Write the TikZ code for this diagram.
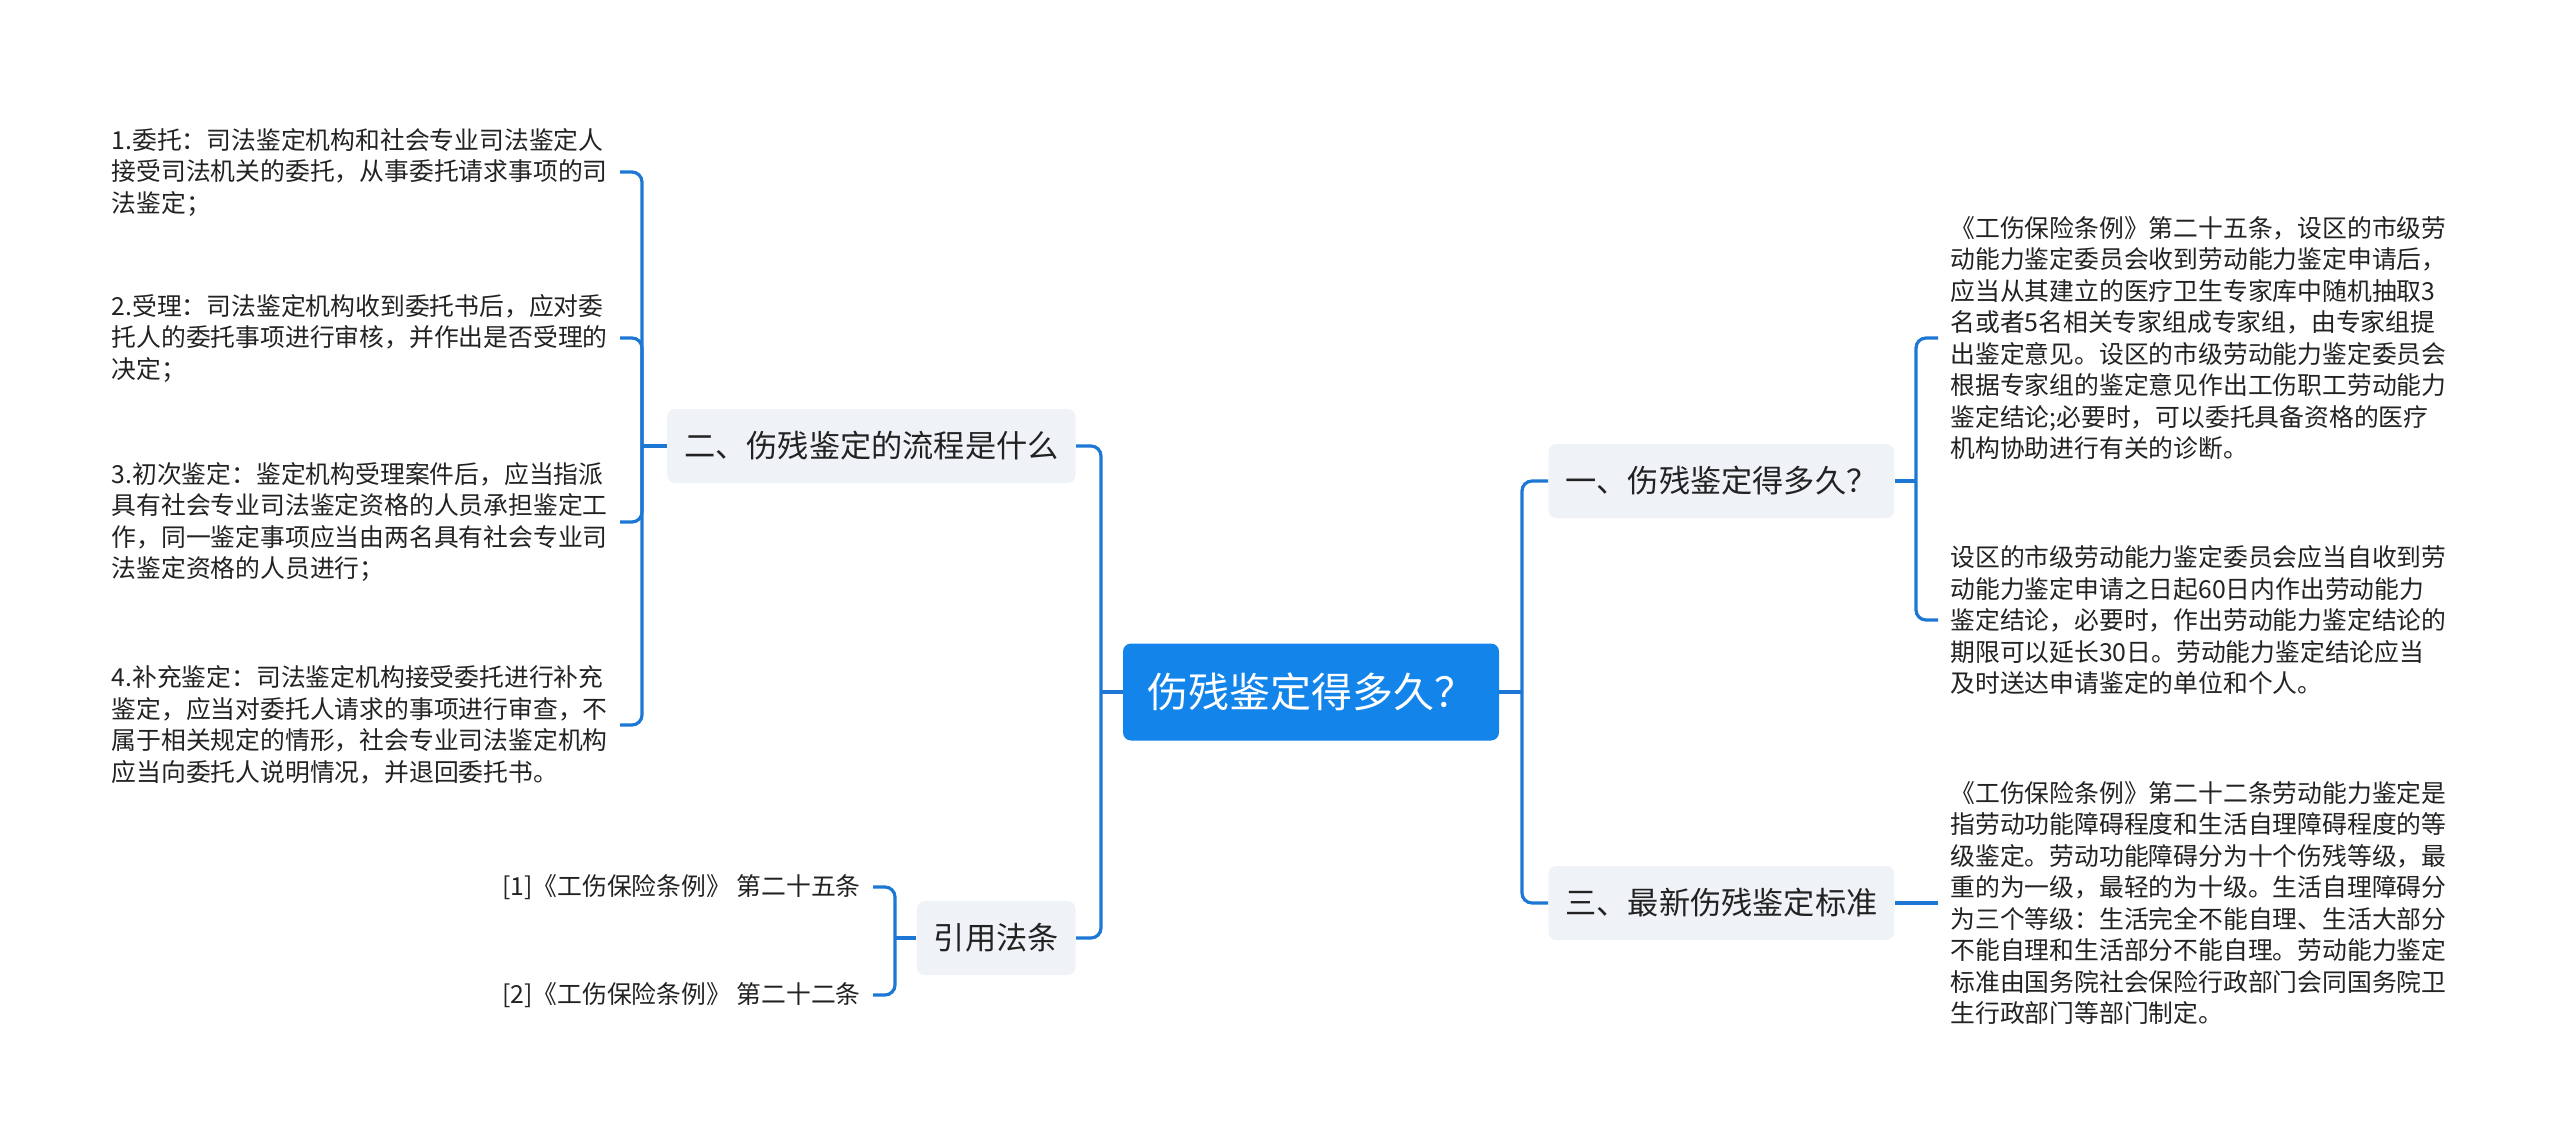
\documentclass[tikz,border=0pt]{standalone}
\usepackage{fontspec}
\setmainfont{Noto Sans CJK SC}
\definecolor{mapblue}{RGB}{18,132,234}
\definecolor{linkblue}{RGB}{28,120,212}
\definecolor{branchgray}{RGB}{239,242,246}
\definecolor{textgray}{RGB}{34,34,34}
\begin{document}
\begin{tikzpicture}[
  x=0.5pt, y=-0.5pt,
  every node/.style={text=textgray},
  rootbox/.style={rectangle, rounded corners=4pt, fill=mapblue, text=white, minimum width=188pt, minimum height=48.5pt, font=\fontsize{20.5}{24}\selectfont},
  branch/.style={rectangle, rounded corners=4pt, fill=branchgray, inner xsep=8.5pt, minimum height=37pt, font=\fontsize{15.6}{18}\selectfont},
  leaf/.style={align=left, inner xsep=6pt, inner ysep=2pt, font=\fontsize{12.4}{15.75}\selectfont},
  link/.style={draw=linkblue, line width=1.6pt, rounded corners=5pt}
]
\useasboundingbox (0,0) rectangle (2560,1147);
% centre and main branches
\node[rootbox] (root) at (1311,692) {伤残鉴定得多久？};
\node[branch, anchor=west] (b1)   at (1548,481) {一、伤残鉴定得多久？};
\node[branch, anchor=west] (b3)   at (1548,903) {三、最新伤残鉴定标准};
\node[branch, anchor=east] (b2)   at (1076,446) {二、伤残鉴定的流程是什么};
\node[branch, anchor=east] (cite) at (1076,938) {引用法条};

% left leaves: the procedure
\node[leaf, anchor=east] (p1) at (620,172) {1.委托：司法鉴定机构和社会专业司法鉴定人\\接受司法机关的委托，从事委托请求事项的司\\法鉴定；};
\node[leaf, anchor=east] (p2) at (620,338) {2.受理：司法鉴定机构收到委托书后，应对委\\托人的委托事项进行审核，并作出是否受理的\\决定；};
\node[leaf, anchor=east] (p3) at (620,522) {3.初次鉴定：鉴定机构受理案件后，应当指派\\具有社会专业司法鉴定资格的人员承担鉴定工\\作，同一鉴定事项应当由两名具有社会专业司\\法鉴定资格的人员进行；};
\node[leaf, anchor=east] (p4) at (620,725) {4.补充鉴定：司法鉴定机构接受委托进行补充\\鉴定，应当对委托人请求的事项进行审查，不\\属于相关规定的情形，社会专业司法鉴定机构\\应当向委托人说明情况，并退回委托书。};

% left leaves: cited articles
\node[leaf, anchor=east] (c1) at (873,887) {[1]《工伤保险条例》 第二十五条};
\node[leaf, anchor=east] (c2) at (873,995) {[2]《工伤保险条例》 第二十二条};

% right leaves
\node[leaf, anchor=west] (q1) at (1938,338) {《工伤保险条例》第二十五条，设区的市级劳\\动能力鉴定委员会收到劳动能力鉴定申请后，\\应当从其建立的医疗卫生专家库中随机抽取3\\名或者5名相关专家组成专家组，由专家组提\\出鉴定意见。设区的市级劳动能力鉴定委员会\\根据专家组的鉴定意见作出工伤职工劳动能力\\鉴定结论;必要时，可以委托具备资格的医疗\\机构协助进行有关的诊断。};
\node[leaf, anchor=west] (q2) at (1938,620) {设区的市级劳动能力鉴定委员会应当自收到劳\\动能力鉴定申请之日起60日内作出劳动能力\\鉴定结论，必要时，作出劳动能力鉴定结论的\\期限可以延长30日。劳动能力鉴定结论应当\\及时送达申请鉴定的单位和个人。};
\node[leaf, anchor=west] (s1) at (1938,903) {《工伤保险条例》第二十二条劳动能力鉴定是\\指劳动功能障碍程度和生活自理障碍程度的等\\级鉴定。劳动功能障碍分为十个伤残等级，最\\重的为一级，最轻的为十级。生活自理障碍分\\为三个等级：生活完全不能自理、生活大部分\\不能自理和生活部分不能自理。劳动能力鉴定\\标准由国务院社会保险行政部门会同国务院卫\\生行政部门等部门制定。};

% root -> branches
\draw[link] (root.east) -- (1522,692) coordinate (rj);
\foreach \b in {b1,b3} \draw[link] (rj) |- (\b.west);
\draw[link] (root.west) -- (1101,692) coordinate (lj);
\foreach \b in {b2,cite} \draw[link] (lj) |- (\b.east);

% branches -> leaves
\draw[link] (b2.west) -- (642,446) coordinate (pj);
\foreach \n in {p1,p2,p3,p4} \draw[link] (pj) |- (\n.east);
\draw[link] (cite.west) -- (895,938) coordinate (cj);
\foreach \n in {c1,c2} \draw[link] (cj) |- (\n.east);
\draw[link] (b1.east) -- (1916,481) coordinate (qj);
\foreach \n in {q1,q2} \draw[link] (qj) |- (\n.west);
\draw[link] (b3.east) -- (s1.west);
\end{tikzpicture}
\end{document}
